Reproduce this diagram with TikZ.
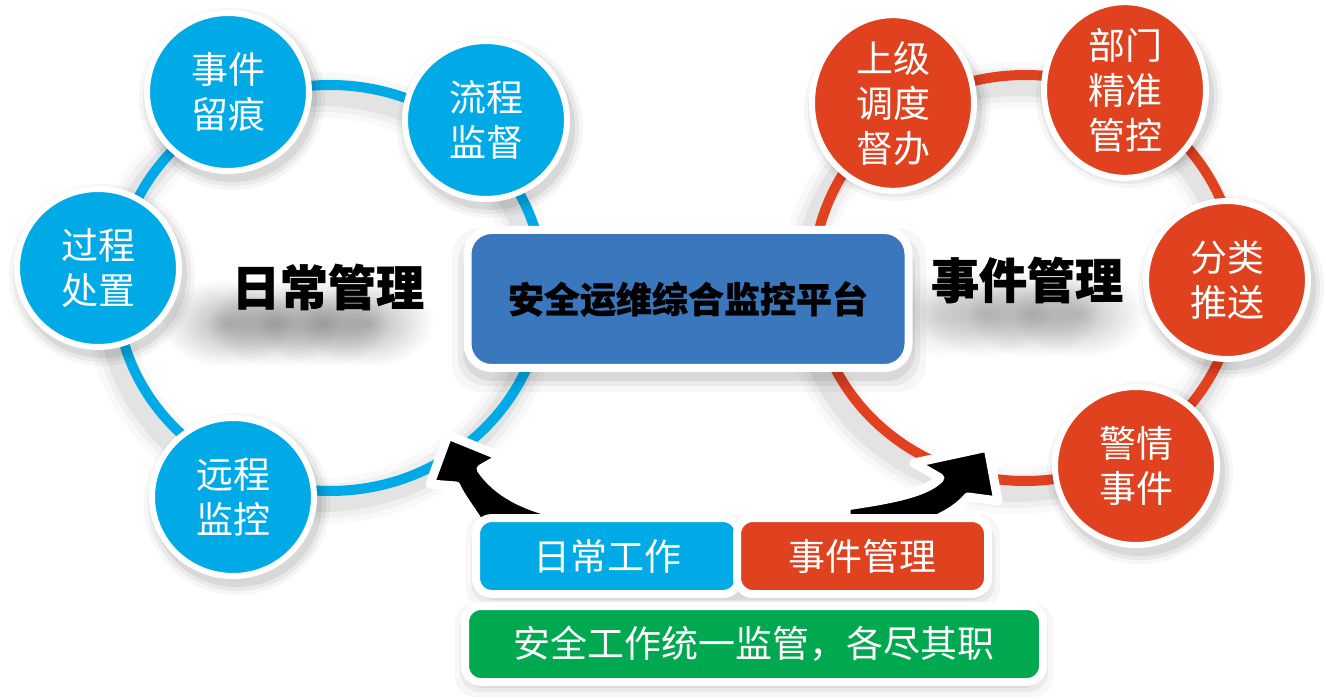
\documentclass[tikz,border=0pt]{standalone}
\usepackage{fontspec}
\newfontfamily\cjk{Noto Sans CJK SC}
\usetikzlibrary{shapes.geometric,fadings}
\definecolor{cblue}{HTML}{00AAE7}
\definecolor{cred}{HTML}{E0411F}
\definecolor{pblue}{HTML}{3B77BC}
\definecolor{cgreen}{HTML}{00A94F}
\tikzfading[name=softblob, inner color=transparent!0, outer color=transparent!100]
\newcommand\bubshadow[2]{\foreach \rr/\oo in {93/0.035,89/0.05,85/0.07} {\fill[black,opacity=\oo] (#1+4,#2+7) ellipse [x radius=\rr, y radius=\rr-2];}}
\newcommand\ringshadow[2]{\foreach \ww/\oo in {46/0.025,34/0.035,22/0.05} {\draw[black,opacity=\oo,line width=\ww] (#1-8,#2+10) ellipse [x radius=214, y radius=203];}}
\newcommand\blob[3]{\fill[black,opacity=#3,path fading=softblob] (#1-66,#2-44) rectangle (#1+66,#2+44);}
\begin{document}
\begin{tikzpicture}[x=1pt,y=-1pt,
  bub/.style={ellipse, draw=white, line width=6, minimum width=162, minimum height=158, inner sep=0, text=white, font=\cjk\fontsize{37}{45}\selectfont, align=center},
  bubB/.style={bub, fill=cblue},
  bubR/.style={bub, fill=cred},
  ringline/.style={line width=10},
  bigtitle/.style={font=\cjk\bfseries\fontsize{48}{50}\selectfont\addfontfeatures{FakeBold=1.2}, text=black, inner sep=0},
  plat/.style={rectangle, rounded corners=24, fill=pblue, draw=white, line width=8, minimum width=441, minimum height=138, inner sep=0, font=\cjk\bfseries\fontsize{36}{40}\selectfont\addfontfeatures{FakeBold=0.8}, text=black},
  tag/.style={rectangle, rounded corners=16, draw=white, line width=8, minimum height=76, inner sep=0, text=white, font=\cjk\fontsize{37}{40}\selectfont},
  arrowshape/.style={fill=black, draw=white, line width=9, line join=round}
]
\fill[white] (0,0) rectangle (1326,700);
\useasboundingbox (0,0) rectangle (1326,700);

% ring shadows and rings
\ringshadow{330}{288}
\ringshadow{1025}{278}
\draw[ringline, cblue] (330,288) ellipse [x radius=214, y radius=203];
\draw[ringline, cred] (1025,278) ellipse [x radius=212, y radius=203];

% title text shadows (soft blobs)
\blob{226}{323}{0.28}
\blob{274}{323}{0.28}
\blob{322}{323}{0.28}
\blob{368}{323}{0.28}
\blob{938}{314}{0.14}
\blob{985}{314}{0.22}
\blob{1033}{314}{0.24}
\blob{1080}{314}{0.24}
\node[bigtitle] (t1) at (328,287) {日常管理};
\node[bigtitle] (t2) at (1027,280) {事件管理};

% circle shadows
\bubshadow{228}{92}
\bubshadow{486}{120}
\bubshadow{98}{268}
\bubshadow{233}{497}
\bubshadow{893}{103}
\bubshadow{1125}{90}
\bubshadow{1227}{280}
\bubshadow{1136}{466}

% circles
\node[bubB] (n1) at (228,92) {事件\\留痕};
\node[bubB] (n2) at (486,120) {流程\\监督};
\node[bubB] (n3) at (98,268) {过程\\处置};
\node[bubB] (n4) at (233,497) {远程\\监控};
\node[bubR] (m1) at (893,103) {上级\\调度\\督办};
\node[bubR] (m2) at (1125,90) {部门\\精准\\管控};
\node[bubR] (m3) at (1227,280) {分类\\推送};
\node[bubR] (m4) at (1136,466) {警情\\事件};

% platform
\foreach \ee/\oo in {14/0.03,8/0.05,3/0.07} {
  \fill[black,opacity=\oo,rounded corners=28] (466-\ee,236-\ee+6) rectangle (912+\ee,372+\ee+6);
}
\node[plat] (plat) at (688,299) {安全运维综合监控平台};

% curved arrows
\coordinate (lt) at (448,435);
\coordinate (lb1) at (502,457);
\coordinate (lb2) at (430,484);
\draw[arrowshape] (lt) -- (lb1) -- (481,469)
  .. controls (497,492) and (522,506) .. (566,516) -- (566,545) -- (492,545)
  .. controls (476,515) and (462,500) .. (456,486) -- (lb2) -- cycle;

\coordinate (rt) at (988,447);
\coordinate (rb1) at (914,463);
\coordinate (rb2) at (998,501);
\draw[arrowshape] (rt) -- (rb2) -- (968,497)
  .. controls (955,512) and (935,522) .. (905,530) -- (905,548) -- (846,548) -- (846,506)
  .. controls (885,500) and (925,494) .. (940,478) -- (rb1) -- cycle;

% bottom boxes shadows
\foreach \ee/\oo in {10/0.03,5/0.05,1/0.07} {
  \fill[black,opacity=\oo,rounded corners=20] (476-\ee,520-\ee+5) rectangle (990+\ee,594+\ee+5);
  \fill[black,opacity=\oo,rounded corners=20] (465-\ee,608-\ee+5) rectangle (1043+\ee,682+\ee+5);
}
\node[tag, fill=cblue, minimum width=263] (b1) at (607.5,556) {日常工作};
\node[tag, fill=cred, minimum width=251] (b2) at (862.5,556) {事件管理};
\node[tag, fill=cgreen, minimum width=578] (b3) at (754,644) {安全工作统一监管，各尽其职};
\end{tikzpicture}
\end{document}
